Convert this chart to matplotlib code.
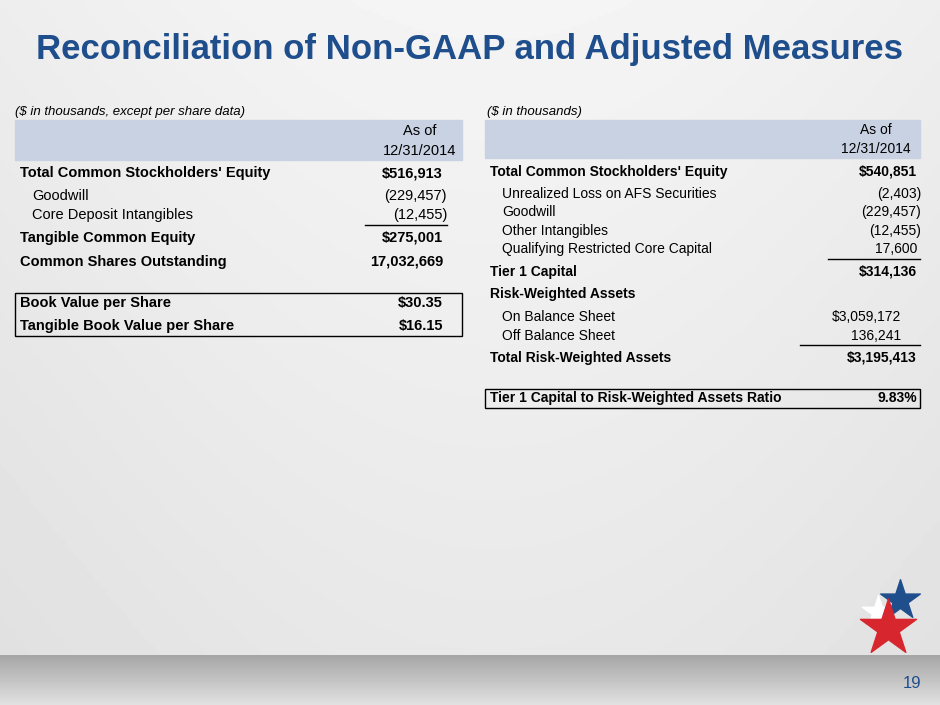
import numpy as np
import matplotlib.pyplot as plt
from matplotlib.patches import Rectangle

plt.rcParams['font.family'] = ['Liberation Sans', 'DejaVu Sans']

title = "Reconciliation of Non-GAAP and Adjusted Measures"
page = "19"

left_note = "($ in thousands, except per share data)"
left_labels = ["Total Common Stockholders' Equity", "Goodwill", "Core Deposit Intangibles",
               "Tangible Common Equity", "Common Shares Outstanding",
               "Book Value per Share", "Tangible Book Value per Share"]
left_values = ["$516,913", "(229,457)", "(12,455)", "$275,001", "17,032,669", "$30.35", "$16.15"]
left_bold = [True, False, False, True, True, True, True]

right_note = "($ in thousands)"
right_labels = ["Total Common Stockholders' Equity", "Unrealized Loss on AFS Securities", "Goodwill",
                "Other Intangibles", "Qualifying Restricted Core Capital", "Tier 1 Capital",
                "Risk-Weighted Assets", "On Balance Sheet", "Off Balance Sheet",
                "Total Risk-Weighted Assets", "Tier 1 Capital to Risk-Weighted Assets Ratio"]
right_values = ["$540,851", "(2,403)", "(229,457)", "(12,455)", "17,600", "$314,136", "",
                "$3,059,172", "136,241", "$3,195,413", "9.83%"]
right_bold = [True, False, False, False, False, True, True, False, False, True, True]

# layout (pixels)
left_y = [173, 196, 215, 238, 262, 303, 326]
left_x = [20, 32, 32, 20, 20, 20, 20]
left_vx = [443, 447, 447, 443, 443, 443, 443]
right_y = [172, 194, 212, 231, 249, 272, 294, 317, 336, 358, 398]
right_x = [490, 502, 502, 502, 502, 490, 490, 502, 502, 490, 490]
right_vx = [917, 921, 921, 921, 917, 917, 917, 901, 901, 917, 917]

fig = plt.figure(figsize=(9.4, 7.05), dpi=100)
ax = fig.add_axes([0, 0, 1, 1])
ax.set_xlim(0, 940)
ax.set_ylim(705, 0)
ax.axis('off')

# background gradient
g = np.linspace(0, 1, 200)[:, None]
bg = 0.93 - 0.05 * g + 0.03 * np.sin(np.linspace(0, 3, 300))[None, :]
ax.imshow(bg, cmap='gray', vmin=0, vmax=1, extent=[0, 940, 655, 0], aspect='auto', zorder=0)
bot = np.linspace(0.65, 0.88, 50)[:, None] * np.ones((1, 300))
ax.imshow(bot, cmap='gray', vmin=0, vmax=1, extent=[0, 940, 705, 655], aspect='auto', zorder=0)

ax.text(470, 50, title, color='#1F4E8C', fontsize=25, fontweight='bold', ha='center', va='center')
ax.text(912, 683, page, color='#1F4E8C', fontsize=12, ha='center', va='center')

hdr = '#C9D2E3'
# left table
ax.text(15, 112, left_note, fontsize=9.5, style='italic', va='center')
ax.add_patch(Rectangle((15, 120), 447, 40, color=hdr, zorder=1))
ax.text(420, 131, "As of", fontsize=10.5, ha='center', va='center')
ax.text(420, 151, "12/31/2014", fontsize=10.5, ha='center', va='center')
for lab, val, b, y, x, vx in zip(left_labels, left_values, left_bold, left_y, left_x, left_vx):
    w = 'bold' if b else 'normal'
    ax.text(x, y, lab, fontsize=10.5, fontweight=w, va='center')
    ax.text(vx, y, val, fontsize=10.5, fontweight=w, va='center', ha='right')
ax.plot([365, 447], [225, 225], color='black', lw=1)
ax.add_patch(Rectangle((15, 293), 447, 43, fill=False, ec='black', lw=1))

# right table
ax.text(487, 112, right_note, fontsize=9.5, style='italic', va='center')
ax.add_patch(Rectangle((485, 120), 435, 38, color=hdr, zorder=1))
ax.text(876, 130, "As of", fontsize=10, ha='center', va='center')
ax.text(876, 149, "12/31/2014", fontsize=10, ha='center', va='center')
for lab, val, b, y, x, vx in zip(right_labels, right_values, right_bold, right_y, right_x, right_vx):
    w = 'bold' if b else 'normal'
    ax.text(x, y, lab, fontsize=10, fontweight=w, va='center')
    ax.text(vx, y, val, fontsize=10, fontweight=w, va='center', ha='right')
ax.plot([828, 920], [259, 259], color='black', lw=1)
ax.plot([800, 920], [345, 345], color='black', lw=1)
ax.add_patch(Rectangle((485, 389), 435, 19, fill=False, ec='black', lw=1))

# logo stars
ax.scatter([900], [600], marker='*', s=900, color='#1F4E8C', zorder=3)
ax.scatter([888], [628], marker='*', s=1800, color='#D7262E', zorder=3)
ax.scatter([878], [612], marker='*', s=600, color='white', zorder=2)

fig.savefig('out.png', dpi=100)
